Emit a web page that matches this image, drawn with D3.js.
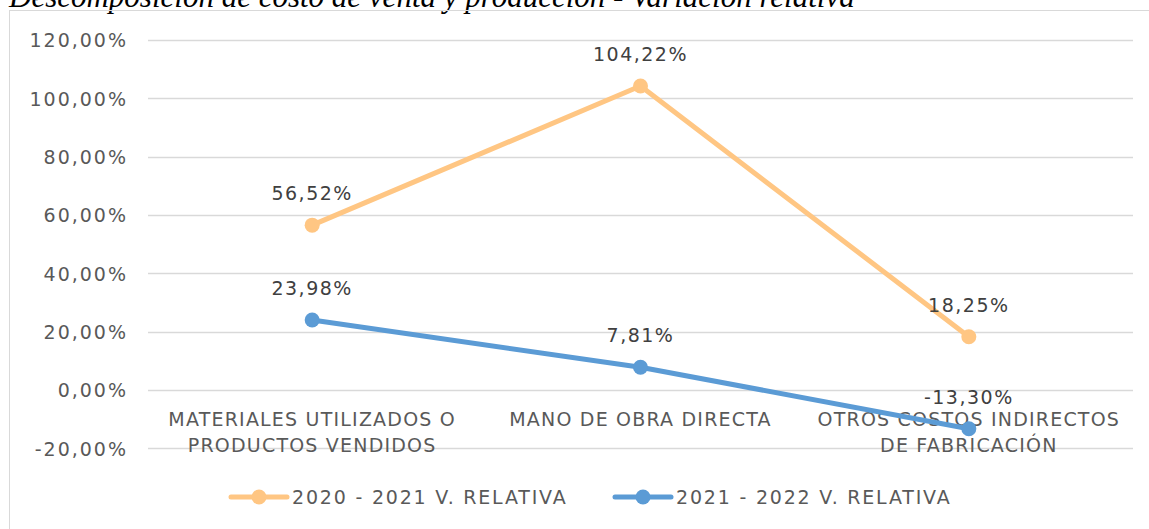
<!DOCTYPE html>
<html>
<head>
<meta charset="utf-8">
<script src="https://cdn.jsdelivr.net/npm/d3@7"></script>
<style>
  body { margin: 0; background: #fff; }
  svg { display: block; }
  .ax text, .lbl, .leg text, .cat { font-family: "DejaVu Sans", sans-serif; }
</style>
</head>
<body>
<svg id="chart" width="1149" height="529"></svg>
<script>
// Cost of sales and production breakdown — relative variation by period
const categories = [
  ["MATERIALES UTILIZADOS O", "PRODUCTOS VENDIDOS"],
  ["MANO DE OBRA DIRECTA"],
  ["OTROS COSTOS INDIRECTOS", "DE FABRICACIÓN"]
];
const seriesNames = ["2020 - 2021 V. RELATIVA", "2021 - 2022 V. RELATIVA"];
const values2021 = [56.52, 104.22, 18.25];
const values2022 = [23.98, 7.81, -13.30];
const yTicks = [-20, 0, 20, 40, 60, 80, 100, 120];
const colors = ["#ffc683", "#5b9bd5"];
const title = "Descomposición de costo de venta y producción - Variación relativa";

const svg = d3.select("#chart");
const fmt = v => v.toFixed(2).replace(".", ",") + "%";

// title (partly above the frame)
svg.append("text")
  .attr("x", 9).attr("y", 7)
  .attr("font-family", "Liberation Serif, Times New Roman, serif")
  .attr("font-style", "italic")
  .attr("font-size", 31)
  .attr("fill", "#000")
  .text(title);

// chart frame
svg.append("rect")
  .attr("x", 9.5).attr("y", 10.5)
  .attr("width", 1160).attr("height", 540)
  .attr("fill", "none").attr("stroke", "#d9d9d9").attr("stroke-width", 1);

const x = d3.scaleBand().domain(d3.range(categories.length)).range([148, 1133]);
const y = d3.scaleLinear().domain([-20, 120]).range([448.3, 40]);

// gridlines
svg.append("g").selectAll("line").data(yTicks).join("line")
  .attr("x1", 148).attr("x2", 1133)
  .attr("y1", d => Math.round(y(d)) + 0.5).attr("y2", d => Math.round(y(d)) + 0.5)
  .attr("stroke", "#d9d9d9").attr("stroke-width", 1.5);

// y axis labels
const yAxis = d3.axisLeft(y).tickValues(yTicks).tickFormat(fmt).tickSize(0).tickPadding(0);
const ag = svg.append("g").attr("class", "ax").attr("transform", "translate(128,0)").call(yAxis);
ag.select(".domain").remove();
ag.selectAll("text")
  .attr("font-size", 19).attr("fill", "#595959").attr("letter-spacing", 2)
  .attr("dy", "0.36em");

// category labels
const cat = svg.append("g").selectAll("text").data(categories).join("text")
  .attr("class", "cat")
  .attr("text-anchor", "middle")
  .attr("font-size", 19).attr("fill", "#595959").attr("letter-spacing", 1.2);
cat.each(function(lines, i) {
  d3.select(this).selectAll("tspan").data(lines).join("tspan")
    .attr("x", x(i) + x.bandwidth() / 2)
    .attr("y", (d, j) => 426 + j * 26)
    .text(d => d);
});

const series = [values2021, values2022];
const line = d3.line().x((d, i) => x(i) + x.bandwidth() / 2).y(d => y(d));

series.forEach((vals, s) => {
  const g = svg.append("g");
  g.append("path").datum(vals)
    .attr("d", line).attr("fill", "none")
    .attr("stroke", colors[s]).attr("stroke-width", 5).attr("stroke-linejoin", "round");
  g.selectAll("circle").data(vals).join("circle")
    .attr("cx", (d, i) => x(i) + x.bandwidth() / 2).attr("cy", d => y(d))
    .attr("r", 7.5).attr("fill", colors[s]);
  g.selectAll("text").data(vals).join("text")
    .attr("class", "lbl")
    .attr("x", (d, i) => x(i) + x.bandwidth() / 2)
    .attr("y", d => y(d) - 25)
    .attr("text-anchor", "middle")
    .attr("font-size", 19).attr("fill", "#404040").attr("letter-spacing", 1.5)
    .text(fmt);
});

// legend
const legX = [231, 615];
const leg = svg.append("g").attr("class", "leg").selectAll("g").data(seriesNames).join("g")
  .attr("transform", (d, i) => `translate(${legX[i]},497)`);
leg.append("line").attr("x1", 0).attr("x2", 56)
  .attr("stroke", (d, i) => colors[i]).attr("stroke-width", 5).attr("stroke-linecap", "round");
leg.append("circle").attr("cx", 28).attr("r", 7.5).attr("fill", (d, i) => colors[i]);
leg.append("text").attr("x", 61).attr("dy", "0.36em")
  .attr("font-size", 19).attr("fill", "#595959").attr("letter-spacing", 1.8)
  .text(d => d);
</script>
</body>
</html>
